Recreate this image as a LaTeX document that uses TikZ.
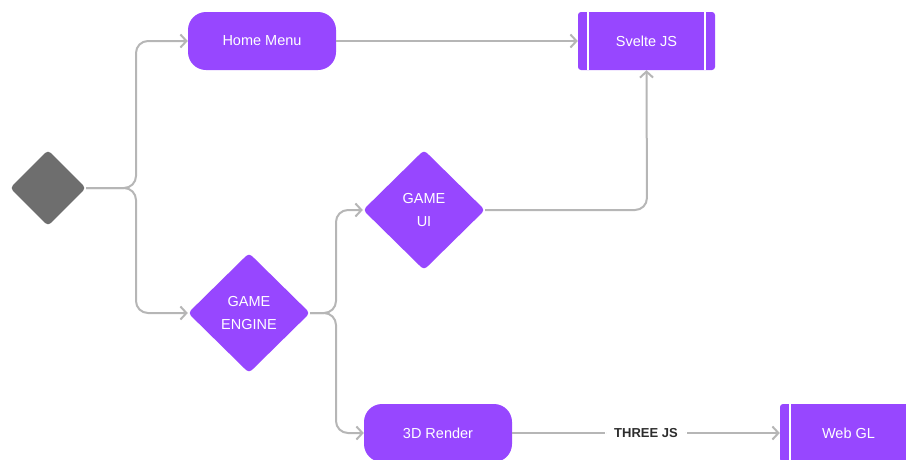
\documentclass[tikz,border=0pt]{standalone}
\usepackage{fontspec}
\setmainfont{Liberation Sans}
\usetikzlibrary{shapes.geometric, arrows.meta}

\definecolor{figpurple}{RGB}{151,71,255}
\definecolor{startgray}{RGB}{110,110,110}
\definecolor{linegray}{RGB}{182,182,182}
\definecolor{labelgray}{RGB}{45,45,45}

\tikzset{
    pill/.style={draw=none, fill=figpurple, rounded corners=18pt, minimum width=148pt, minimum height=58pt, text=white, font=\fontsize{14.5}{17}\selectfont},
    decision/.style={diamond, draw=none, fill=figpurple, rounded corners=4pt, inner sep=0pt, minimum width=122pt, minimum height=120pt, text=white, align=center, font=\fontsize{14.5}{23}\selectfont},
    lib/.style={draw=none, fill=figpurple, rounded corners=3pt, minimum width=137pt, minimum height=58pt, text=white, font=\fontsize{14.5}{17}\selectfont,
        path picture={
            \draw[white, line width=1.4pt] ([xshift=10pt]path picture bounding box.north west) -- ([xshift=10pt]path picture bounding box.south west);
            \draw[white, line width=1.4pt] ([xshift=-10pt]path picture bounding box.north east) -- ([xshift=-10pt]path picture bounding box.south east);
        }},
    conn/.style={draw=linegray, line width=2pt, rounded corners=12pt, -{Straight Barb[length=6pt, width=13pt, line width=2pt]}},
}

\begin{document}
\begin{tikzpicture}[x=1pt, y=-1pt]
    \useasboundingbox (0,0) rectangle (908,459);
    % nodes
    \node[diamond, fill=startgray, rounded corners=4pt, inner sep=0pt, minimum width=76pt, minimum height=76pt] (start) at (48,188) {};
    \node[pill] (homemenu) at (262,41) {Home Menu};
    \node[lib] (svelte) at (646.5,41) {Svelte JS};
    \node[decision] (gameui) at (424,210) {GAME\\UI};
    \node[decision] (gameengine) at (249,313) {GAME\\ENGINE};
    \node[pill] (render) at (438,433) {3D Render};
    \node[lib] (webgl) at (848.5,433) {Web GL};
    % fork points
    \coordinate (fork1) at (136,188);
    \coordinate (fork2) at (336,313);
    \coordinate (bend) at (647,210);
    % connectors
    \draw[conn] (start.east) -- (fork1) |- (homemenu.west);
    \draw[conn] (start.east) -- (fork1) |- (gameengine.west);
    \draw[conn] (homemenu.east) -- (svelte.west);
    \draw[conn] (gameui.east) -- (bend) -- (svelte.south);
    \draw[conn] (gameengine.east) -- (fork2) |- (gameui.west);
    \draw[conn] (gameengine.east) -- (fork2) |- (render.west);
    \draw[conn] (render.east) -- node[fill=white, text=labelgray, font=\bfseries\fontsize{13}{15}\selectfont, inner xsep=9pt] (three) {THREE JS} (webgl.west);
\end{tikzpicture}
\end{document}
